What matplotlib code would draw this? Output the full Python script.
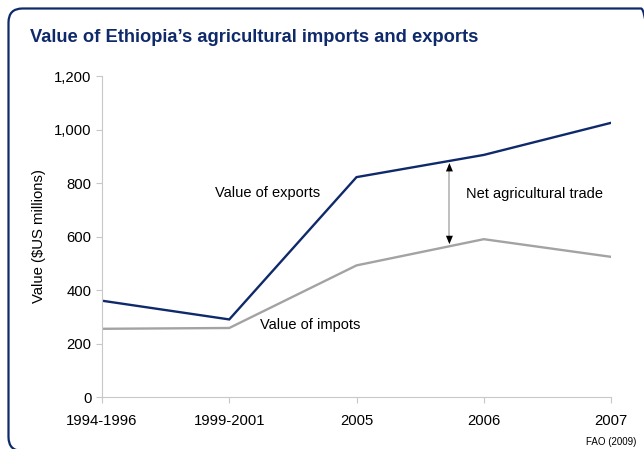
import matplotlib
matplotlib.use("Agg")
import matplotlib.pyplot as plt
from matplotlib.patches import FancyBboxPatch
import numpy as np

plt.rcParams['font.family'] = ['Liberation Sans', 'DejaVu Sans']

categories = ["1994-1996", "1999-2001", "2005", "2006", "2007"]
exports = [360, 290, 822, 905, 1025]
imports = [255, 258, 492, 590, 524]
yticks = [0, 200, 400, 600, 800, 1000, 1200]

navy = "#0f2a6a"
gray = "#a3a3a3"

W, H = 644, 449
fig = plt.figure(figsize=(W / 100, H / 100), dpi=100)
ax = fig.add_axes([0.1584, 0.1158, 0.7904, 0.7149])

x = np.arange(len(categories))
ax.plot(x, exports, color=navy, lw=1.7, solid_joinstyle='miter')
ax.plot(x, imports, color=gray, lw=1.7, solid_joinstyle='miter')

ax.set_xlim(0, len(categories) - 1)
ax.set_ylim(0, 1200)
ax.set_xticks(x)
ax.set_xticklabels(categories, fontsize=10.7)
ax.set_yticks(yticks)
ax.set_yticklabels([f"{v:,}" for v in yticks], fontsize=10.7)
for s in ['top', 'right']:
    ax.spines[s].set_visible(False)
for s in ['left', 'bottom']:
    ax.spines[s].set_color('#c8c8c8')
    ax.spines[s].set_linewidth(0.8)
ax.tick_params(axis='both', colors='#c8c8c8', labelcolor='black', length=4, width=0.8)
ax.tick_params(axis='x', pad=8)
ax.set_ylabel("Value ($US millions)", fontsize=10.7, labelpad=6)

# net trade arrow between 2005 and 2006
xa = 2.73
ye = np.interp(xa, x, exports)
yi = np.interp(xa, x, imports)
ax.plot([xa, xa], [yi + 20, ye - 20], color='#c0c0c0', lw=1.4)
ax.annotate("", xy=(xa, ye - 8), xytext=(xa, ye - 40),
            arrowprops=dict(arrowstyle="-|>,head_length=0.6,head_width=0.25",
                            color='black', lw=0.01, mutation_scale=10,
                            shrinkA=0, shrinkB=0))
ax.annotate("", xy=(xa, yi + 8), xytext=(xa, yi + 40),
            arrowprops=dict(arrowstyle="-|>,head_length=0.6,head_width=0.25",
                            color='black', lw=0.01, mutation_scale=10,
                            shrinkA=0, shrinkB=0))

ax.text(0.89, 763, "Value of exports", fontsize=10.5, va='center', ha='left')
ax.text(1.24, 269, "Value of impots", fontsize=10.5, va='center', ha='left')
ax.text(2.86, 759, "Net agricultural trade", fontsize=10.5, va='center', ha='left')

fig.text(30 / W, 1 - 38 / H, "Value of Ethiopia\u2019s agricultural imports and exports",
         fontsize=13.2, fontweight='bold', color=navy, va='center', ha='left')
fig.text(636 / W, 1 - 442 / H, "FAO (2009)", fontsize=7, ha='right', va='center')

# rounded border in pixel coordinates (partly outside the canvas)
left, right, top, bottom = 8.5, 655.0, 8.5, 451.0
border = FancyBboxPatch((left, H - bottom), right - left, bottom - top,
                        boxstyle="round,pad=0,rounding_size=14",
                        transform=None, fill=False,
                        edgecolor=navy, linewidth=1.6, clip_on=False)
fig.patches.append(border)

fig.savefig("out.png", dpi=100)
